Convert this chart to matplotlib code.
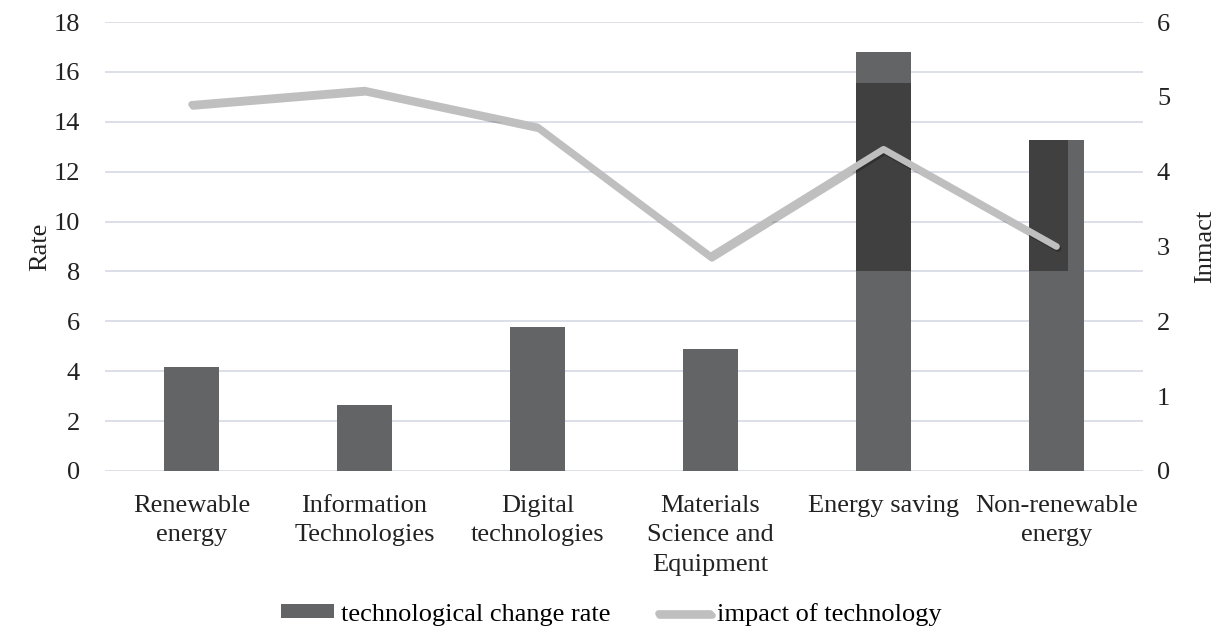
import matplotlib.pyplot as plt
import matplotlib.patheffects as pe
import numpy as np

plt.rcParams['font.family'] = ['Liberation Serif', 'DejaVu Serif']

categories = ["Renewable\nenergy", "Information\nTechnologies", "Digital\ntechnologies",
              "Materials\nScience and\nEquipment", "Energy saving", "Non-renewable\nenergy"]
change_rate = [4.15, 2.65, 5.77, 4.9, 16.8, 13.27]
impact = [4.9, 5.09, 4.6, 2.87, 4.3, 3.0]

# dark overlay patches visible on the last two bars of the source image
overlay_bottom = [0, 0, 0, 0, 8.03, 8.03]
overlay_top = [0, 0, 0, 0, 15.57, 13.27]
overlay_width = [0, 0, 0, 0, 1.0, 0.71]

fs = 19
fig = plt.figure(figsize=(12.23, 6.3), dpi=100)
ax = fig.add_axes([0.0859, 0.2524, 0.8487, 0.7126])
ax2 = ax.twinx()

x = np.arange(len(categories))
bw = 0.315
ax.bar(x, change_rate, width=bw, color="#636466", zorder=2,
       label="technological change rate")
for xi, b, t, w in zip(x, overlay_bottom, overlay_top, overlay_width):
    if t > b:
        ax.bar(xi - bw / 2, t - b, bottom=b, width=bw * w, align="edge",
               color="#404040", zorder=3)

ax2.plot(x, impact, color="#bfbfbf", linewidth=4.8, solid_capstyle="round",
         label="impact of technology",
         path_effects=[pe.SimpleLineShadow(offset=(1, -1.5), alpha=0.25), pe.Normal()])

ax.set_xlim(-0.5, len(categories) - 0.5)
ax.set_ylim(0, 18)
ax.set_yticks(range(0, 19, 2))
ax2.set_ylim(0, 6)
ax2.set_yticks(range(0, 7))

ax.grid(axis="y", color="#d9dce6", linewidth=1.3, zorder=0)
ax.set_axisbelow(True)
for a in (ax, ax2):
    for s in a.spines.values():
        s.set_visible(False)
    a.tick_params(length=0, labelsize=fs, colors="#222222")
ax.tick_params(axis="y", pad=18)
ax2.tick_params(axis="y", pad=10)
ax.tick_params(axis="x", pad=17)
ax.set_xticks(x)
ax.set_xticklabels(categories, linespacing=1.45)

ax.set_ylabel("Rate", fontsize=fs, color="#222222", labelpad=2)
ax2.set_ylabel("Inmact", fontsize=fs, color="#222222", rotation=90, labelpad=17)

h1, l1 = ax.get_legend_handles_labels()
h2, l2 = ax2.get_legend_handles_labels()
fig.legend(h1 + h2, l1 + l2, loc="lower center", bbox_to_anchor=(0.5, -0.031), ncol=2,
           frameon=False, fontsize=fs, handlelength=2.0, handleheight=0.45,
           handletextpad=0.25, columnspacing=1.8)

fig.savefig("out.png", dpi=100)
